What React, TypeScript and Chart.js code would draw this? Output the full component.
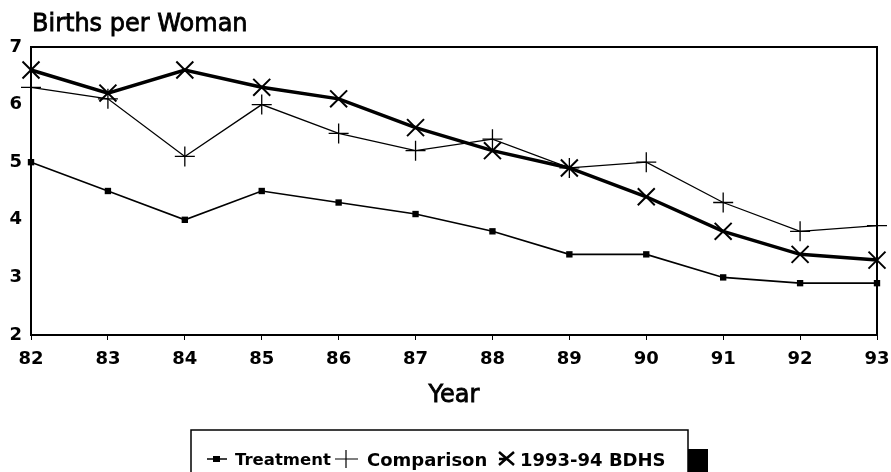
import { useEffect, useRef } from "react";
import { Chart, registerables } from "chart.js";

Chart.register(...registerables);

const years = ["82", "83", "84", "85", "86", "87", "88", "89", "90", "91", "92", "93"];
const treatment = [5.0, 4.5, 4.0, 4.5, 4.3, 4.1, 3.8, 3.4, 3.4, 3.0, 2.9, 2.9];
const comparison = [6.3, 6.1, 5.1, 6.0, 5.5, 5.2, 5.4, 4.9, 5.0, 4.3, 3.8, 3.9];
const bdhs = [6.6, 6.2, 6.6, 6.3, 6.1, 5.6, 5.2, 4.9, 4.4, 3.8, 3.4, 3.3];
const seriesNames = ["Treatment", "Comparison", "1993-94 BDHS"];
const yMin = 2;
const yMax = 7;
const chartTitle = "Births per Woman";
const xTitle = "Year";

const FONT = "'DejaVu Sans', sans-serif";

const decorPlugin = {
  id: "decor",
  afterDraw(chart: any) {
    const { ctx, chartArea } = chart;
    const { left, right, top, bottom } = chartArea;
    ctx.save();
    // box top/right
    ctx.strokeStyle = "#000";
    ctx.lineWidth = 2;
    ctx.beginPath();
    ctx.moveTo(left, top);
    ctx.lineTo(right, top);
    ctx.lineTo(right, bottom);
    ctx.stroke();

    // title
    ctx.fillStyle = "#000";
    ctx.font = `24px ${FONT}`;
    ctx.textAlign = "left";
    ctx.textBaseline = "middle";
    ctx.lineWidth = 0.8;
    ctx.fillText(chartTitle, 32, 25);
    ctx.strokeText(chartTitle, 32, 25);

    // x title
    ctx.font = `24px ${FONT}`;
    ctx.textAlign = "center";
    ctx.fillText(xTitle, (left + right) / 2, 396);
    ctx.strokeText(xTitle, (left + right) / 2, 396);

    // legend box + shadow
    ctx.fillStyle = "#000";
    ctx.fillRect(688, 449, 20, 30);
    ctx.fillStyle = "#fff";
    ctx.fillRect(191, 430, 497, 50);
    ctx.strokeStyle = "#000";
    ctx.lineWidth = 1.5;
    ctx.strokeRect(191, 430, 497, 50);

    const ly = 459;
    ctx.fillStyle = "#000";
    ctx.textAlign = "left";
    ctx.textBaseline = "middle";
    // treatment
    ctx.lineWidth = 1.5;
    ctx.beginPath();
    ctx.moveTo(207, ly);
    ctx.lineTo(227, ly);
    ctx.stroke();
    ctx.fillRect(213, ly - 3, 7, 6);
    ctx.font = `bold 16.5px ${FONT}`;
    ctx.fillText(seriesNames[0], 235, ly + 2);
    // comparison
    ctx.lineWidth = 1.2;
    ctx.beginPath();
    ctx.moveTo(335, ly);
    ctx.lineTo(358, ly);
    ctx.moveTo(346, ly - 9);
    ctx.lineTo(346, ly + 9);
    ctx.stroke();
    ctx.font = `bold 18px ${FONT}`;
    ctx.fillText(seriesNames[1], 367, ly + 2);
    // bdhs
    ctx.lineWidth = 2.5;
    ctx.beginPath();
    ctx.moveTo(499, ly - 7);
    ctx.lineTo(514, ly + 6);
    ctx.moveTo(514, ly - 7);
    ctx.lineTo(499, ly + 6);
    ctx.moveTo(499, ly);
    ctx.lineTo(508, ly);
    ctx.stroke();
    ctx.fillText(seriesNames[2], 520, ly + 2);
    ctx.restore();
  },
};

export default function App() {
  const ref = useRef<HTMLCanvasElement | null>(null);
  useEffect(() => {
    if (!ref.current) return;
    const chart = new Chart(ref.current, {
      type: "line",
      data: {
        labels: years,
        datasets: [
          {
            label: seriesNames[2],
            data: bdhs,
            borderColor: "#000",
            backgroundColor: "#000",
            borderWidth: 3.5,
            pointStyle: "crossRot",
            pointRadius: 12,
            pointBorderWidth: 2,
            tension: 0,
            clip: false,
          },
          {
            label: seriesNames[1],
            data: comparison,
            borderColor: "#000",
            backgroundColor: "#000",
            borderWidth: 1.3,
            pointStyle: "cross",
            pointRadius: 10,
            pointBorderWidth: 1.3,
            tension: 0,
            clip: false,
          },
          {
            label: seriesNames[0],
            data: treatment,
            borderColor: "#000",
            backgroundColor: "#000",
            borderWidth: 1.6,
            pointStyle: "rect",
            pointRadius: 4.5,
            pointBorderWidth: 0,
            tension: 0,
            clip: false,
          },
        ],
      },
      options: {
        responsive: false,
        animation: false,
        layout: { padding: { top: 47, right: 8, left: 0, bottom: 0 } },
        plugins: {
          legend: { display: false },
          tooltip: { enabled: false },
          title: { display: false },
        },
        scales: {
          x: {
            offset: false,
            grid: {
              display: true,
              drawOnChartArea: false,
              drawTicks: true,
              tickLength: 5,
              color: "#000",
              lineWidth: 1,
            },
            border: { display: true, color: "#000", width: 2 },
            ticks: {
              color: "#000",
              font: { family: FONT, size: 18, weight: "bold" },
              padding: 9,
              maxRotation: 0,
              autoSkip: false,
            },
            afterFit: (s: any) => {
              s.height = 137;
              s.paddingLeft = 0;
              s.paddingRight = 0;
            },
          },
          y: {
            min: yMin,
            max: yMax,
            grid: { display: false, drawTicks: false },
            border: { display: true, color: "#000", width: 2 },
            ticks: {
              stepSize: 1,
              color: "#000",
              font: { family: FONT, size: 18, weight: "bold" },
              padding: 9,
            },
            afterFit: (s: any) => {
              s.width = 31;
              s.paddingTop = 0;
              s.paddingBottom = 0;
            },
          },
        },
      },
      plugins: [decorPlugin],
    });
    return () => chart.destroy();
  }, []);
  return (
    <div style={{ position: "fixed", left: 0, top: 0, width: 891, height: 472, background: "#fff" }}>
      <canvas ref={ref} width={891} height={472} style={{ display: "block" }} />
    </div>
  );
}
